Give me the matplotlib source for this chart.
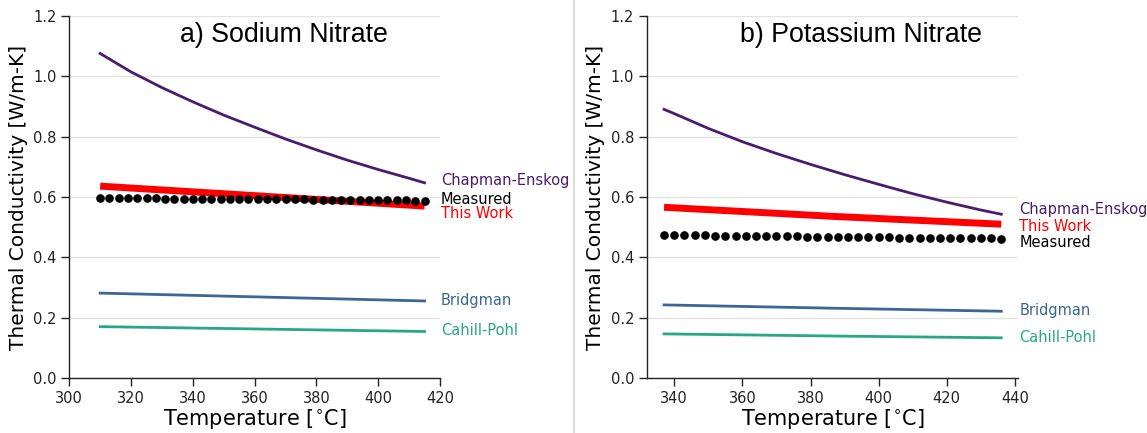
import numpy as np
import matplotlib
matplotlib.use("Agg")
import matplotlib.pyplot as plt
from matplotlib.lines import Line2D

# ---- Sodium nitrate ----
na_T_model = [310, 320, 330, 340, 350, 360, 370, 380, 390, 400, 410, 415]
na_chapman = [1.075, 1.014, 0.962, 0.915, 0.871, 0.831, 0.792, 0.756, 0.722, 0.691, 0.662, 0.647]
na_T_lin = [310, 362.5, 415]
na_this_work = [0.636, 0.603, 0.570]
na_bridgman = [0.282, 0.269, 0.256]
na_cahill = [0.171, 0.163, 0.155]
na_T_meas = np.arange(310, 416, 3)
na_measured = [0.597, 0.597, 0.597, 0.596, 0.596, 0.596, 0.596, 0.595, 0.595,
               0.595, 0.595, 0.594, 0.594, 0.594, 0.594, 0.593, 0.593, 0.593,
               0.593, 0.592, 0.592, 0.592, 0.592, 0.591, 0.591, 0.591, 0.591,
               0.590, 0.590, 0.590, 0.590, 0.589, 0.589, 0.589, 0.588, 0.588]

# ---- Potassium nitrate ----
k_T_model = [337, 340, 350, 360, 370, 380, 390, 400, 410, 420, 430, 436]
k_chapman = [0.890, 0.876, 0.827, 0.783, 0.744, 0.708, 0.674, 0.642, 0.611, 0.583, 0.557, 0.543]
k_T_lin = [337, 386.5, 436]
k_this_work = [0.566, 0.536, 0.510]
k_bridgman = [0.243, 0.232, 0.222]
k_cahill = [0.147, 0.140, 0.134]
k_T_meas = np.arange(337, 437, 3)
k_measured = [0.474, 0.474, 0.473, 0.473, 0.473, 0.472, 0.472, 0.472, 0.471,
              0.471, 0.471, 0.470, 0.470, 0.470, 0.469, 0.469, 0.469, 0.468,
              0.468, 0.468, 0.467, 0.467, 0.467, 0.466, 0.466, 0.466, 0.465,
              0.465, 0.465, 0.464, 0.464, 0.463, 0.463, 0.462]

titles = ["a) Sodium Nitrate", "b) Potassium Nitrate"]
series_names = ["Chapman-Enskog", "Measured", "This Work", "Bridgman", "Cahill-Pohl"]
na_label_y = {"Chapman-Enskog": 0.655, "Measured": 0.592, "This Work": 0.545,
              "Bridgman": 0.258, "Cahill-Pohl": 0.159}
k_label_y = {"Chapman-Enskog": 0.559, "This Work": 0.502, "Measured": 0.450,
             "Bridgman": 0.225, "Cahill-Pohl": 0.136}
yticks = [0.0, 0.2, 0.4, 0.6, 0.8, 1.0, 1.2]

colors = {
    "Chapman-Enskog": "#4a1b6f",
    "Measured": "#000000",
    "This Work": "#ff0000",
    "Bridgman": "#3c6694",
    "Cahill-Pohl": "#27a884",
}

fig = plt.figure(figsize=(11.47, 4.33), dpi=100)
ax1 = fig.add_axes([0.0604, 0.1263, 0.3232, 0.8374])
ax2 = fig.add_axes([0.5638, 0.1263, 0.3240, 0.8374])


def draw_panel(ax, xlim, xticks, T_model, chap, T_lin, work, brid, cahi,
               T_meas, meas, label_y, title, title_x):
    ax.plot(T_model, chap, color=colors["Chapman-Enskog"], lw=2.0, zorder=3)
    ax.plot(T_lin, work, color=colors["This Work"], lw=5.0, zorder=3,
            solid_capstyle="butt")
    ax.plot(T_meas, meas, "o", color=colors["Measured"], ms=5.2, zorder=4)
    ax.plot(T_lin, brid, color=colors["Bridgman"], lw=2.0, zorder=3)
    ax.plot(T_lin, cahi, color=colors["Cahill-Pohl"], lw=2.0, zorder=3)

    ax.set_xlim(*xlim)
    ax.set_xticks(xticks)
    ax.set_ylim(0, 1.2)
    ax.set_yticks(yticks)
    ax.set_yticklabels([f"{v:.1f}" for v in yticks])
    ax.yaxis.grid(True, color="#e3e3e3", lw=1.0, zorder=0)
    ax.set_axisbelow(True)
    for s in ("top", "right"):
        ax.spines[s].set_visible(False)
    for s in ("left", "bottom"):
        ax.spines[s].set_color("#222222")
        ax.spines[s].set_linewidth(1.0)
    ax.tick_params(direction="out", length=6, width=1, color="#222222",
                   labelsize=10.5, labelcolor="#222222", pad=3)
    ax.set_xlabel("Temperature [$^{\\circ}$C]", fontsize=15, labelpad=1)
    ax.set_ylabel("Thermal Conductivity [W/m-K]", fontsize=14.5, labelpad=4)

    xr = xlim[1]
    for name in series_names:
        ax.text(xr + 0.3, label_y[name], name, color=colors[name],
                fontsize=10.5, va="center", ha="left", clip_on=False)
    ax.text(title_x, 1.136, title, fontsize=19.3, family="Liberation Sans",
            ha="center", va="center")


draw_panel(ax1, (300, 420), range(300, 421, 20), na_T_model, na_chapman,
           na_T_lin, na_this_work, na_bridgman, na_cahill, na_T_meas,
           na_measured, na_label_y, titles[0], 369.5)

draw_panel(ax2, (331.9, 441.0), range(340, 441, 20), k_T_model, k_chapman,
           k_T_lin, k_this_work, k_bridgman, k_cahill, k_T_meas,
           k_measured, k_label_y, titles[1], 394.8)

fig.add_artist(Line2D([0.5004, 0.5004], [0.0, 1.0], color="#dcdcdc", lw=1.5,
                      transform=fig.transFigure))

fig.savefig("out.png", dpi=100)
